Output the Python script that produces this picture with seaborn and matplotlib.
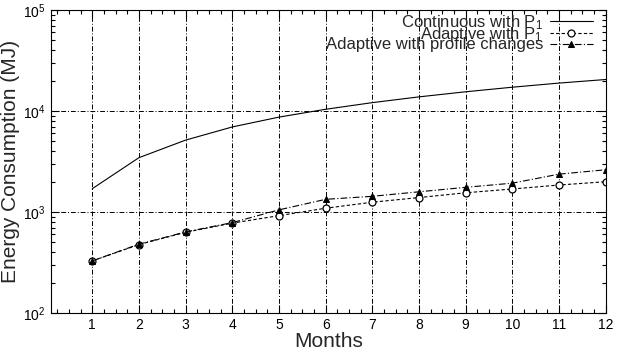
import matplotlib
matplotlib.use("Agg")
import matplotlib.pyplot as plt
import seaborn as sns
import pandas as pd
import numpy as np
from matplotlib.ticker import LogLocator, MultipleLocator, FixedLocator

months = [1, 2, 3, 4, 5, 6, 7, 8, 9, 10, 11, 12]
continuous_p1 = [1700, 3450, 5150, 6950, 8700, 10400, 12100, 13800, 15500, 17200, 18900, 20500]
adaptive_p1 = [328, 476, 630, 776, 920, 1090, 1250, 1390, 1550, 1690, 1850, 1995]
adaptive_profile = [328, 480, 635, 785, 1050, 1335, 1430, 1585, 1755, 1930, 2370, 2620]
labels = ["Continuous with P$_1$", "Adaptive with P$_1$", "Adaptive with profile changes"]

sns.set_style("ticks")
plt.rcParams['font.family'] = ['Liberation Sans', 'DejaVu Sans']
plt.rcParams['mathtext.fontset'] = 'custom'
plt.rcParams['mathtext.rm'] = 'Liberation Sans'
plt.rcParams['mathtext.it'] = 'Liberation Sans'

fig = plt.figure(figsize=(6.18, 3.54), dpi=100)
ax = fig.add_axes([50.7/618, 41/354, (605.7-50.7)/618, (313-10)/354])

df1 = pd.DataFrame({"Months": months, "E": continuous_p1})
df2 = pd.DataFrame({"Months": months, "E": adaptive_p1})
df3 = pd.DataFrame({"Months": months, "E": adaptive_profile})

sns.lineplot(data=df1, x="Months", y="E", ax=ax, color="black", lw=0.8,
             linestyle="-", label=labels[0])
sns.lineplot(data=df2, x="Months", y="E", ax=ax, color="black", lw=0.8,
             linestyle=(0, (3, 2)), marker="o", markersize=5, markerfacecolor="white",
             markeredgecolor="black", markeredgewidth=0.9, label=labels[1])
sns.lineplot(data=df3, x="Months", y="E", ax=ax, color="black", lw=0.8,
             linestyle=(0, (6, 2, 1, 2)), marker="^", markersize=5, markerfacecolor="black",
             markeredgecolor="black", label=labels[2])

ax.set_yscale("log")
ax.set_ylim(100, 100000)
ax.set_xlim(0.11, 12)
ax.xaxis.set_major_locator(FixedLocator(months))
ax.xaxis.set_minor_locator(MultipleLocator(0.25))
ax.yaxis.set_major_locator(LogLocator(base=10, numticks=10))
ax.yaxis.set_minor_locator(LogLocator(base=10, subs=np.arange(2, 10), numticks=20))

ax.tick_params(which="both", direction="in", top=True, right=True, colors="black",
               labelsize=10, width=0.8)
ax.tick_params(which="major", length=6)
ax.tick_params(which="minor", length=3)
for s in ax.spines.values():
    s.set_color("black")
    s.set_linewidth(0.8)

ax.grid(True, which="major", axis="both", color="black", lw=0.7, linestyle=(0, (5, 2, 1, 2)))
ax.set_xlabel("Months", fontsize=15, labelpad=0)
ax.set_ylabel("Energy Consumption (MJ)", fontsize=15, labelpad=2)

leg = ax.legend(loc="upper right", bbox_to_anchor=(593/618, 1 - 13/354),
                bbox_transform=fig.transFigure, frameon=False, markerfirst=False,
                fontsize=12, labelspacing=-0.4, handlelength=2.6, handletextpad=0.4,
                borderpad=0, borderaxespad=0)

fig.savefig("out.png", dpi=100, facecolor="white")
